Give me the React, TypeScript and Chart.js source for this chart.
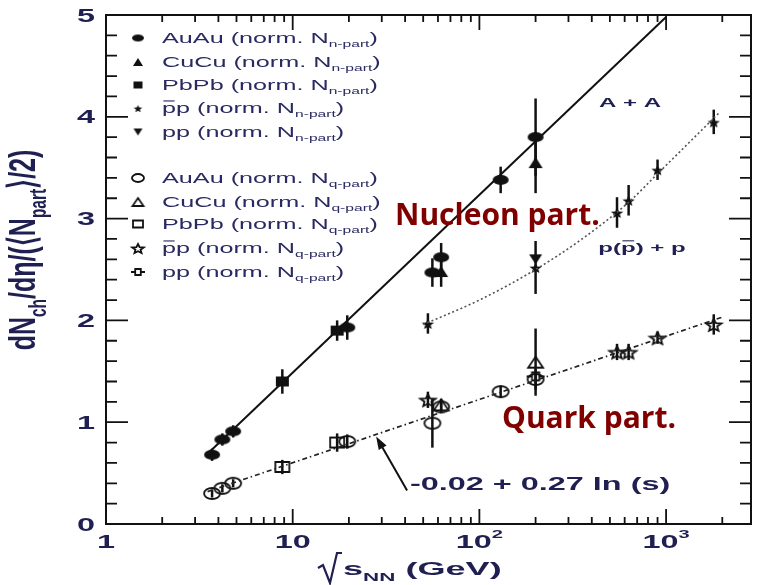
import React, { useEffect, useRef } from "react";
import { Chart, registerables } from "chart.js";

Chart.register(...registerables);

// ---- data: √s_NN (GeV), dN/dη per participant pair, vertical error ----
// normalised to nucleon participants (filled markers)
const auauNpartS = [3.7, 4.2, 4.8, 19.6, 56, 62.4, 130, 200];
const auauNpartV = [0.68, 0.83, 0.91, 1.93, 2.47, 2.62, 3.38, 3.8];
const auauNpartE = [0.06, 0.06, 0.06, 0.12, 0.14, 0.14, 0.13, 0.38];

const cucuNpartS = [62.4, 200];
const cucuNpartV = [2.48, 3.55];
const cucuNpartE = [0.15, 0.3];

const pbpbNpartS = [8.8, 17.3];
const pbpbNpartV = [1.4, 1.9];
const pbpbNpartE = [0.12, 0.1];

const ppbarNpartS = [53, 200, 546, 630, 900, 1800];
const ppbarNpartV = [1.97, 2.52, 3.06, 3.18, 3.48, 3.95];
const ppbarNpartE = [0.1, 0.26, 0.15, 0.15, 0.1, 0.12];

const ppNpartS = [200];
const ppNpartV = [2.6];
const ppNpartE = [0];

// normalised to quark participants (open markers)
const auauQpartS = [3.7, 4.2, 4.8, 19.6, 56, 62.4, 130, 200];
const auauQpartV = [0.3, 0.35, 0.4, 0.81, 0.99, 1.15, 1.3, 1.42];
const auauQpartE = [0.04, 0.04, 0.04, 0.07, 0.24, 0.06, 0.06, 0.1];

const cucuQpartS = [62.4, 200];
const cucuQpartV = [1.17, 1.59];
const cucuQpartE = [0.06, 0.33];

const pbpbQpartS = [8.8, 17.3];
const pbpbQpartV = [0.56, 0.8];
const pbpbQpartE = [0.07, 0.09];

const ppbarQpartS = [53, 546, 630, 900, 1800];
const ppbarQpartV = [1.22, 1.69, 1.69, 1.83, 1.96];
const ppbarQpartE = [0.08, 0.08, 0.08, 0.06, 0.1];

const ppQpartS = [200];
const ppQpartV = [1.45];
const ppQpartE = [0];

// fitted trends
const nucleonFitS = [3.5, 1000];
const nucleonFitV = [0.69, 4.98];
const quarkFitA = -0.02;
const quarkFitB = 0.27;
const quarkFitRange = [3.5, 2000];
const ppCurveS = [50, 100, 200, 355, 630, 900, 1950];
const ppCurveV = [1.96, 2.2, 2.5, 2.8, 3.16, 3.44, 4.05];

// axes
const xMin = 1;
const xMax = 2850;
const yMin = 0;
const yMax = 5;
const yTickValues = [0, 1, 2, 3, 4, 5];
const xTickValues = [1, 10, 100, 1000];
const xTickBase = ["1", "10", "10", "10"];
const xTickExp = ["", "", "2", "3"];

// formula pointer (tip on the quark fit, tail at the formula)
const arrowTip = [28, 0.86];
const arrowTail = [41, 0.33];

// ---- drawing helpers ----
const SX = 1.8;
const INK = "#1f1f52";
const LEGEND_INK = "#2a2a62";
const MAROON = "#800000";
const FONT = "'Liberation Sans', Arial, Helvetica, sans-serif";

type Seg = { t: string; sub?: boolean; sup?: boolean; bar?: boolean };

function segFont(size: number, weight: string, s: Seg, family = FONT) {
  const sz = s.sub || s.sup ? size * 0.62 : size;
  return `${weight} ${sz}px ${family}`;
}

function richWidth(ctx: CanvasRenderingContext2D, segs: Seg[], size: number, weight: string, family = FONT) {
  let w = 0;
  for (const s of segs) {
    ctx.font = segFont(size, weight, s, family);
    w += ctx.measureText(s.t).width;
  }
  return w;
}

function drawRich(
  ctx: CanvasRenderingContext2D,
  segs: Seg[],
  size: number,
  weight: string,
  align: "left" | "center" | "right",
  family = FONT
) {
  const w = richWidth(ctx, segs, size, weight, family);
  let cx = align === "left" ? 0 : align === "center" ? -w / 2 : -w;
  ctx.textAlign = "left";
  ctx.textBaseline = "alphabetic";
  for (const s of segs) {
    ctx.font = segFont(size, weight, s, family);
    const dy = s.sub ? size * 0.3 : s.sup ? -size * 0.58 : 0;
    ctx.fillText(s.t, cx, dy);
    const sw = ctx.measureText(s.t).width;
    if (s.bar) ctx.fillRect(cx + sw * 0.1, -size * 0.9, sw * 0.8, Math.max(1, size * 0.08));
    cx += sw;
  }
}

function textAt(
  ctx: CanvasRenderingContext2D,
  segs: Seg[],
  x: number,
  y: number,
  size: number,
  weight: string,
  align: "left" | "center" | "right",
  color: string,
  sx = SX,
  family = FONT
) {
  ctx.save();
  ctx.translate(x, y);
  ctx.scale(sx, 1);
  ctx.fillStyle = color;
  drawRich(ctx, segs, size, weight, align, family);
  ctx.restore();
}

function makeMarker(kind: string, filled: boolean, w: number, h: number): HTMLCanvasElement {
  const pad = 3;
  const c = document.createElement("canvas");
  c.width = Math.ceil(w + pad * 2);
  c.height = Math.ceil(h + pad * 2);
  const ctx = c.getContext("2d") as CanvasRenderingContext2D;
  const cx = c.width / 2;
  const cy = c.height / 2;
  const rx = w / 2;
  const ry = h / 2;
  ctx.lineWidth = 1.8;
  ctx.strokeStyle = "#111";
  ctx.fillStyle = "#111";
  ctx.beginPath();
  if (kind === "circle") {
    ctx.ellipse(cx, cy, rx - 1, ry - 1, 0, 0, Math.PI * 2);
  } else if (kind === "square") {
    ctx.rect(cx - rx + 1, cy - ry + 1, w - 2, h - 2);
  } else if (kind === "tri") {
    ctx.moveTo(cx, cy - ry + 1);
    ctx.lineTo(cx + rx - 1, cy + ry - 1);
    ctx.lineTo(cx - rx + 1, cy + ry - 1);
    ctx.closePath();
  } else if (kind === "tridown") {
    ctx.moveTo(cx, cy + ry - 1);
    ctx.lineTo(cx + rx - 1, cy - ry + 1);
    ctx.lineTo(cx - rx + 1, cy - ry + 1);
    ctx.closePath();
  } else if (kind === "star") {
    for (let i = 0; i < 10; i++) {
      const r = i % 2 === 0 ? 1 : 0.45;
      const a = -Math.PI / 2 + (i * Math.PI) / 5;
      const px = cx + Math.cos(a) * (rx - 1) * r;
      const py = cy + 1 + Math.sin(a) * (ry - 1) * r;
      if (i === 0) ctx.moveTo(px, py);
      else ctx.lineTo(px, py);
    }
    ctx.closePath();
  } else if (kind === "bar") {
    ctx.rect(cx - rx * 0.4, cy - ry + 1, rx * 0.8, h - 2);
    if (filled) ctx.fill();
    else ctx.stroke();
    ctx.beginPath();
    ctx.moveTo(cx - rx, cy);
    ctx.lineTo(cx - rx * 0.4, cy);
    ctx.moveTo(cx + rx * 0.4, cy);
    ctx.lineTo(cx + rx, cy);
    ctx.stroke();
    return c;
  }
  if (filled) ctx.fill();
  else ctx.stroke();
  return c;
}

type Series = {
  kind: string;
  filled: boolean;
  s: number[];
  v: number[];
  e: number[];
  w: number;
  h: number;
  label: Seg[];
};

function normLabel(name: Seg[], part: string): Seg[] {
  return [...name, { t: " (norm. N" }, { t: part, sub: true }, { t: ")" }];
}

const seriesList: Series[] = [
  { kind: "circle", filled: true, s: auauNpartS, v: auauNpartV, e: auauNpartE, w: 18, h: 12, label: normLabel([{ t: "AuAu" }], "n-part") },
  { kind: "tri", filled: true, s: cucuNpartS, v: cucuNpartV, e: cucuNpartE, w: 16, h: 13, label: normLabel([{ t: "CuCu" }], "n-part") },
  { kind: "square", filled: true, s: pbpbNpartS, v: pbpbNpartV, e: pbpbNpartE, w: 15, h: 12, label: normLabel([{ t: "PbPb" }], "n-part") },
  { kind: "star", filled: true, s: ppbarNpartS, v: ppbarNpartV, e: ppbarNpartE, w: 15, h: 13, label: normLabel([{ t: "p", bar: true }, { t: "p" }], "n-part") },
  { kind: "tridown", filled: true, s: ppNpartS, v: ppNpartV, e: ppNpartE, w: 15, h: 12, label: normLabel([{ t: "pp" }], "n-part") },
  { kind: "circle", filled: false, s: auauQpartS, v: auauQpartV, e: auauQpartE, w: 18, h: 13, label: normLabel([{ t: "AuAu" }], "q-part") },
  { kind: "tri", filled: false, s: cucuQpartS, v: cucuQpartV, e: cucuQpartE, w: 17, h: 13, label: normLabel([{ t: "CuCu" }], "q-part") },
  { kind: "square", filled: false, s: pbpbQpartS, v: pbpbQpartV, e: pbpbQpartE, w: 16, h: 12, label: normLabel([{ t: "PbPb" }], "q-part") },
  { kind: "star", filled: false, s: ppbarQpartS, v: ppbarQpartV, e: ppbarQpartE, w: 18, h: 15, label: normLabel([{ t: "p", bar: true }, { t: "p" }], "q-part") },
  { kind: "bar", filled: false, s: ppQpartS, v: ppQpartV, e: ppQpartE, w: 18, h: 10, label: normLabel([{ t: "pp" }], "q-part") },
];

const legendRowsY = [38, 62, 85, 108, 132, 178, 202, 224, 248, 272];
const legendMarkerX = 138;
const legendTextX = 162;

function pairs(s: number[], v: number[]) {
  return s.map((x, i) => ({ x, y: v[i] }));
}

export default function App() {
  const ref = useRef<HTMLCanvasElement | null>(null);

  useEffect(() => {
    const canvas = ref.current;
    if (!canvas) return;

    const plotMarkers = seriesList.map((sr) => makeMarker(sr.kind, sr.filled, sr.w, sr.h));
    const legendMarkers = seriesList.map((sr) =>
      makeMarker(sr.kind, sr.filled, Math.round(sr.w * 0.75), Math.round(sr.h * 0.78))
    );

    const fitSets: any[] = [
      {
        data: pairs(nucleonFitS, nucleonFitV),
        showLine: true,
        borderColor: "#111",
        borderWidth: 2,
        pointRadius: 0,
      },
      {
        data: quarkFitRange.map((s) => ({ x: s, y: quarkFitA + quarkFitB * Math.log(s) })),
        showLine: true,
        borderColor: "#222",
        borderWidth: 1.7,
        borderDash: [5, 3, 1.5, 3],
        pointRadius: 0,
      },
      {
        data: pairs(ppCurveS, ppCurveV),
        showLine: true,
        borderColor: "#555",
        borderWidth: 1.6,
        borderDash: [2, 2.5],
        pointRadius: 0,
        cubicInterpolationMode: "monotone",
      },
    ];
    const markerSets = seriesList.map((sr, i) => ({
      data: pairs(sr.s, sr.v),
      showLine: false,
      pointStyle: plotMarkers[i],
      pointRadius: 7,
      borderColor: "#111",
      backgroundColor: "#111",
    }));

    const decorations = {
      id: "decorations",
      beforeDatasetsDraw(chart: any) {
        const { ctx, chartArea: a, scales } = chart;
        const xs = scales.x;
        const ys = scales.y;
        ctx.save();
        ctx.beginPath();
        ctx.rect(a.left, a.top, a.right - a.left, a.bottom - a.top);
        ctx.clip();
        ctx.strokeStyle = "#111";
        ctx.lineWidth = 2.5;
        seriesList.forEach((sr) => {
          sr.s.forEach((s, i) => {
            if (!sr.e[i]) return;
            const px = xs.getPixelForValue(s);
            ctx.beginPath();
            ctx.moveTo(px, ys.getPixelForValue(sr.v[i] - sr.e[i]));
            ctx.lineTo(px, ys.getPixelForValue(sr.v[i] + sr.e[i]));
            ctx.stroke();
          });
        });
        ctx.restore();
      },
      afterDatasetsDraw(chart: any) {
        const { ctx, chartArea: a, scales } = chart;
        const xs = scales.x;
        const ys = scales.y;
        ctx.save();

        // frame
        ctx.strokeStyle = "#111";
        ctx.lineWidth = 2;
        ctx.strokeRect(a.left, a.top, a.right - a.left, a.bottom - a.top);

        // inward ticks, all four sides
        ctx.lineWidth = 1.8;
        ctx.beginPath();
        for (let k = 0; k <= 25; k++) {
          const v = yMin + k * 0.2;
          const py = ys.getPixelForValue(v);
          const len = k % 5 === 0 ? 22 : 11;
          ctx.moveTo(a.left, py);
          ctx.lineTo(a.left + len, py);
          ctx.moveTo(a.right, py);
          ctx.lineTo(a.right - len, py);
        }
        for (let d = 1; d <= 1000; d *= 10) {
          for (let m = 1; m <= 9; m++) {
            const v = d * m;
            if (v < xMin || v > xMax) continue;
            const px = xs.getPixelForValue(v);
            const len = m === 1 ? 15 : 7;
            ctx.moveTo(px, a.bottom);
            ctx.lineTo(px, a.bottom - len);
            ctx.moveTo(px, a.top);
            ctx.lineTo(px, a.top + len);
          }
        }
        ctx.stroke();

        // tick labels
        yTickValues.forEach((v) => {
          textAt(ctx, [{ t: String(v) }], a.left - 11, ys.getPixelForValue(v) + 6.5, 18, "bold", "right", INK);
        });
        xTickValues.forEach((v, i) => {
          const segs: Seg[] = [{ t: xTickBase[i] }];
          if (xTickExp[i]) segs.push({ t: xTickExp[i], sup: true });
          textAt(ctx, segs, xs.getPixelForValue(v), a.bottom + 24, 18, "bold", "center", INK);
        });

        // x title with a drawn radical sign
        ctx.strokeStyle = INK;
        ctx.lineWidth = 2.2;
        ctx.lineJoin = "miter";
        ctx.beginPath();
        ctx.moveTo(318, 568);
        ctx.lineTo(323, 565);
        ctx.lineTo(330, 583);
        ctx.lineTo(337, 553);
        ctx.lineTo(342, 553);
        ctx.stroke();
        textAt(ctx, [{ t: "s" }, { t: "NN", sub: true }, { t: " (GeV)" }], 343, 575, 19, "bold", "left", INK, 1.9);

        // y title
        ctx.save();
        ctx.translate(35, 250);
        ctx.scale(1.5, 1);
        ctx.rotate(-Math.PI / 2);
        ctx.fillStyle = INK;
        drawRich(
          ctx,
          [{ t: "dN" }, { t: "ch", sub: true }, { t: "/d\u03B7/(\u27E8N" }, { t: "part", sub: true }, { t: "\u27E9/2)" }],
          25,
          "bold",
          "center"
        );
        ctx.restore();

        // legend
        seriesList.forEach((sr, i) => {
          const m = legendMarkers[i];
          const ly = legendRowsY[i];
          ctx.drawImage(m, legendMarkerX - m.width / 2, ly - m.height / 2);
          textAt(ctx, sr.label, legendTextX, ly + 5, 14, "normal", "left", LEGEND_INK);
        });

        // curve labels
        textAt(ctx, [{ t: "A + A" }], 630, 107, 13, "bold", "center", INK, 1.85);
        textAt(ctx, [{ t: "p(" }, { t: "p", bar: true }, { t: ") + p" }], 642, 252, 13, "bold", "center", INK, 1.85);

        // formula and its pointer
        textAt(ctx, [{ t: "-0.02 + 0.27 ln (s)" }], 410, 490, 18, "bold", "left", INK, 1.8);
        const tx = xs.getPixelForValue(arrowTail[0]);
        const ty = ys.getPixelForValue(arrowTail[1]);
        const hx = xs.getPixelForValue(arrowTip[0]);
        const hy = ys.getPixelForValue(arrowTip[1]);
        const ang = Math.atan2(hy - ty, hx - tx);
        ctx.strokeStyle = "#111";
        ctx.fillStyle = "#111";
        ctx.lineWidth = 2;
        ctx.beginPath();
        ctx.moveTo(tx, ty);
        ctx.lineTo(hx - Math.cos(ang) * 6, hy - Math.sin(ang) * 6);
        ctx.stroke();
        ctx.beginPath();
        ctx.moveTo(hx, hy);
        ctx.lineTo(hx - Math.cos(ang) * 13 + Math.sin(ang) * 4.5, hy - Math.sin(ang) * 13 - Math.cos(ang) * 4.5);
        ctx.lineTo(hx - Math.cos(ang) * 13 - Math.sin(ang) * 4.5, hy - Math.sin(ang) * 13 + Math.cos(ang) * 4.5);
        ctx.closePath();
        ctx.fill();

        // overlay annotations
        const ann = "'Open Sans', 'Noto Sans', sans-serif";
        textAt(ctx, [{ t: "Nucleon part." }], 395, 225, 30, "bold", "left", MAROON, 1, ann);
        textAt(ctx, [{ t: "Quark part." }], 502, 428, 30, "bold", "left", MAROON, 1, ann);

        ctx.restore();
      },
    };

    const chart = new Chart(canvas, {
      type: "scatter",
      data: { datasets: [...fitSets, ...markerSets] as any },
      options: {
        animation: false,
        responsive: false,
        maintainAspectRatio: false,
        layout: { padding: { left: 106, right: 7, top: 15, bottom: 61 } },
        scales: {
          x: { type: "logarithmic", min: xMin, max: xMax, display: false },
          y: { type: "linear", min: yMin, max: yMax, display: false },
        },
        plugins: {
          legend: { display: false },
          tooltip: { enabled: false },
        },
        events: [],
      },
      plugins: [decorations],
    });

    return () => chart.destroy();
  }, []);

  return (
    <div style={{ position: "fixed", left: 0, top: 0, width: 759, height: 585, background: "#fff" }}>
      <canvas ref={ref} width={759} height={585} style={{ width: 759, height: 585, display: "block" }} />
    </div>
  );
}
